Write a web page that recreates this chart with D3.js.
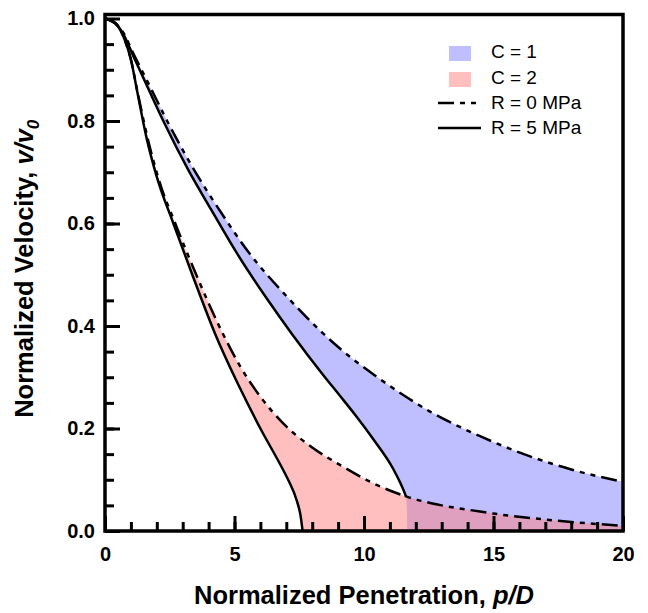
<!DOCTYPE html>
<html>
<head>
<meta charset="utf-8">
<script src="https://cdn.jsdelivr.net/npm/d3@7"></script>
<style>
  body { margin: 0; background: #fff; }
  text { font-family: "Liberation Sans", Arial, sans-serif; }
</style>
</head>
<body>
<svg id="chart" width="648" height="613"></svg>
<script>
// curves: [p/D, v/v0]
var c1R0 = [[0,1.0],[0.3,0.995],[0.7,0.973],[1.1,0.931],[1.75,0.866],[2.4,0.800],[3.4,0.708],[4.5,0.620],
  [5.53,0.545],[7.14,0.451],[8.43,0.385],[9.07,0.356],[10.6,0.297],[11.65,0.261],[12.55,0.233],[13.7,0.203],
  [14.48,0.185],[16.28,0.148],[18.0,0.120],[20,0.096]];
var c1R5 = [[0,1.0],[0.3,0.995],[0.7,0.970],[1.1,0.926],[1.7,0.860],[2.3,0.795],[3.22,0.704],[4.1,0.627],
  [5.08,0.543],[6.24,0.454],[7.21,0.385],[8.43,0.304],[9.07,0.264],[9.7,0.224],[10.36,0.179],[11.13,0.121],
  [11.4,0.094],[11.58,0.073],[11.63,0.066],[11.66,0.03],[11.67,0]];
var c2R0 = [[0,1.0],[0.25,0.995],[0.5,0.985],[0.75,0.960],[1.0,0.920],[1.25,0.858],[1.62,0.772],[2.05,0.690],
  [2.77,0.593],[3.54,0.498],[4.57,0.383],[5.21,0.322],[6.0,0.262],[6.88,0.210],[8.0,0.163],[9.07,0.129],
  [10.36,0.093],[11.65,0.067],[13.0,0.050],[14.48,0.038],[15.0,0.034],[17.5,0.020],[20,0.010]];
var c2R5 = [[0,1.0],[0.25,0.995],[0.5,0.985],[0.75,0.960],[1.0,0.920],[1.25,0.856],[1.6,0.768],[2.0,0.691],
  [2.64,0.600],[3.35,0.503],[4.25,0.385],[5.21,0.279],[6.0,0.200],[6.88,0.119],[7.1,0.097],[7.4,0.060],
  [7.55,0.030],[7.63,0]];

var xMajor = [0, 5, 10, 15, 20];
var yMajor = [0, 0.2, 0.4, 0.6, 0.8, 1.0];
var legendLabels = ["C = 1", "C = 2", "R = 0 MPa", "R = 5 MPa"];

var margin = {top: 18.5, right: 25, bottom: 82, left: 105};
var W = 648, H = 613;
var width = W - margin.left - margin.right;
var height = H - margin.top - margin.bottom;

var svg = d3.select("#chart");
var g = svg.append("g").attr("transform", "translate(" + margin.left + "," + margin.top + ")");

var x = d3.scaleLinear().domain([0, 20]).range([0, width]);
var y = d3.scaleLinear().domain([0, 1]).range([height, 0]);

var blueFill = "#bfbfff";
var redFill = "rgba(255,128,128,0.5)";
var dashDot = "16,6,5,6,5,6";

var line = d3.line()
    .x(function(d) { return x(d[0]); })
    .y(function(d) { return y(d[1]); })
    .curve(d3.curveMonotoneX);

// band between R=0 (top) and R=5 (bottom), closed along the x axis
function band(top, bottom) {
  var back = bottom.slice().reverse();
  return line(top) + "L" + x(20) + "," + y(0) + "L" + line(back).slice(1) + "Z";
}

g.append("path").attr("d", band(c1R0, c1R5)).attr("fill", blueFill);
g.append("path").attr("d", band(c2R0, c2R5)).attr("fill", redFill);

// lines
g.append("path").datum(c1R0).attr("d", line)
  .attr("fill", "none").attr("stroke", "#000").attr("stroke-width", 2.5).attr("stroke-dasharray", dashDot);
g.append("path").datum(c2R0).attr("d", line)
  .attr("fill", "none").attr("stroke", "#000").attr("stroke-width", 2.5).attr("stroke-dasharray", dashDot);
// R=5 line of C=1 disappears below the C=2 band
g.append("path").datum(c1R5.filter(function(d) { return d[1] >= 0.066; })).attr("d", line)
  .attr("fill", "none").attr("stroke", "#000").attr("stroke-width", 2.5);
g.append("path").datum(c2R5).attr("d", line)
  .attr("fill", "none").attr("stroke", "#000").attr("stroke-width", 2.5);

// axes: minor + major ticks pointing inward
var xMinor = g.append("g").attr("transform", "translate(0," + height + ")")
  .call(d3.axisBottom(x).tickValues(d3.range(1, 20, 1)).tickSize(-9).tickFormat(""));
var xAx = g.append("g").attr("transform", "translate(0," + height + ")")
  .call(d3.axisBottom(x).tickValues(xMajor).tickSize(-15).tickPadding(16).tickFormat(d3.format("d")));
var yMinor = g.append("g")
  .call(d3.axisLeft(y).tickValues(d3.range(0.05, 1, 0.05)).tickSize(-9).tickFormat(""));
var yAx = g.append("g")
  .call(d3.axisLeft(y).tickValues(yMajor).tickSize(-15).tickPadding(10).tickFormat(d3.format(".1f")));

[xMinor, xAx, yMinor, yAx].forEach(function(a) {
  a.select(".domain").remove();
  a.selectAll(".tick line").attr("stroke", "#000").attr("stroke-width", 3);
  a.selectAll(".tick text").attr("fill", "#000")
    .style("font-family", '"Liberation Sans", Arial, sans-serif')
    .style("font-size", "20px").style("font-weight", "bold");
});

// frame
g.append("rect")
  .attr("x", 0).attr("y", -4).attr("width", width).attr("height", height + 4)
  .attr("fill", "none").attr("stroke", "#000").attr("stroke-width", 3.5);

// axis titles
var xt = svg.append("text")
  .attr("x", margin.left + width / 2).attr("y", 604)
  .attr("text-anchor", "middle").style("font-size", "25.5px").style("font-weight", "bold");
xt.append("tspan").text("Normalized Penetration, ");
xt.append("tspan").style("font-style", "italic").text("p/D");

var yt = svg.append("text")
  .attr("transform", "translate(33," + (margin.top + height / 2 - 6) + ") rotate(-90)")
  .attr("text-anchor", "middle").style("font-size", "25.5px").style("font-weight", "bold");
yt.append("tspan").text("Normalized Velocity, ");
yt.append("tspan").style("font-style", "italic").text("v/v");
yt.append("tspan").style("font-style", "italic").style("font-size", "17px").attr("dy", "0.35em").text("0");

// legend
var leg = svg.append("g");
var swatchFill = [blueFill, redFill];
var legY = [58, 84, 109, 134];
legendLabels.forEach(function(lbl, i) {
  if (i < 2) {
    leg.append("rect").attr("x", 449).attr("y", legY[i] - 12).attr("width", 22).attr("height", 15)
      .attr("fill", swatchFill[i]);
  } else {
    leg.append("line").attr("x1", 438).attr("x2", 481).attr("y1", legY[i] - 6).attr("y2", legY[i] - 6)
      .attr("stroke", "#000").attr("stroke-width", 2.5)
      .attr("stroke-dasharray", i === 2 ? dashDot : null);
  }
  leg.append("text").attr("x", 491).attr("y", legY[i]).style("font-size", "19px").text(lbl);
});
</script>
</body>
</html>
